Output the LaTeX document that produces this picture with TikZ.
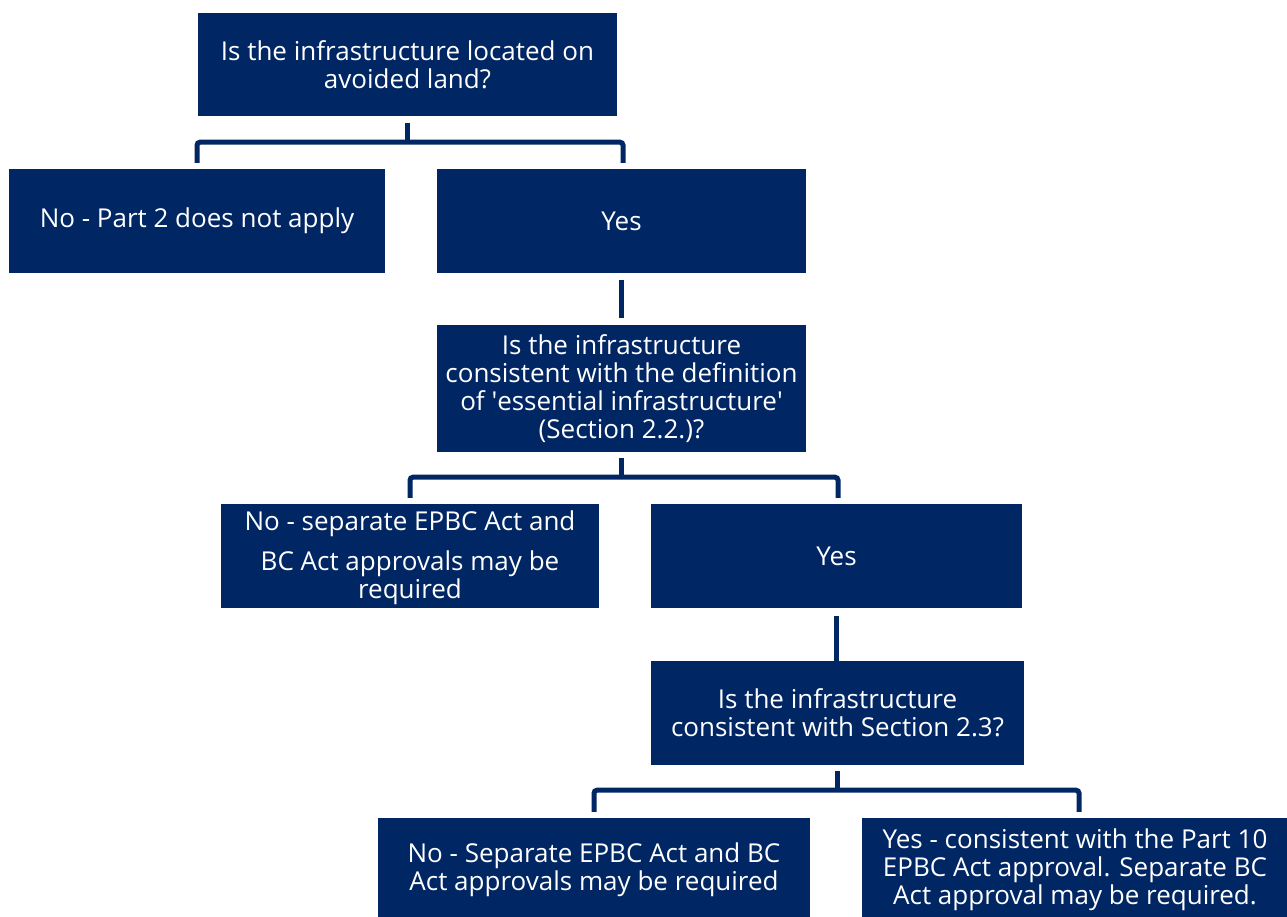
\documentclass[tikz,border=0pt]{standalone}
\usepackage{fontspec}
\setmainfont{Open Sans}
\definecolor{navy}{RGB}{0,38,100}
\begin{document}
\begin{tikzpicture}[x=1pt,y=-1pt,
  box/.style={fill=navy, text=white, align=center, inner sep=0pt,
    font=\fontsize{26}{28}\selectfont},
  conn/.style={draw=navy, line width=5pt, rounded corners=3pt}]
\clip (0,0) rectangle (1287,917);
\useasboundingbox (0,0) rectangle (1287,917);
\node[box, minimum width=419, minimum height=103] (b1) at (407.5,64.5) {Is the infrastructure located on\\avoided land?};
\node[box, minimum width=376, minimum height=104] (b2) at (197,221) {No - Part 2 does not apply};
\node[box, minimum width=369, minimum height=104] (b3) at (621.5,221) {Yes};
\node[box, minimum width=369, minimum height=127] (b4) at (621.5,388.5) {Is the infrastructure\\consistent with the definition\\of \textquotesingle essential infrastructure\textquotesingle\\(Section 2.2.)?};
\node[box, minimum width=378, minimum height=104] (b5) at (410,556) {};
\node[box, anchor=center] (b5t) at ([yshift=-1.5pt]b5.center) {No - separate EPBC Act and\\[12pt]BC Act approvals may be\\required};
\node[box, minimum width=371, minimum height=104] (b6) at (836.5,556) {Yes};
\node[box, minimum width=373, minimum height=104] (b7) at (837.5,713) {Is the infrastructure\\consistent with Section 2.3?};
\node[box, minimum width=432, minimum height=103] (b8) at (594,869.5) {No - Separate EPBC Act and BC\\Act approvals may be required};
\node[box, minimum width=426, minimum height=103] (b9) at (1075,869.5) {Yes - consistent with the Part 10\\EPBC Act approval. Separate BC\\Act approval may be required.};
% connectors
\draw[conn] ([yshift=-7pt]b1.south) -- ++(0,19) coordinate (j1);
\draw[conn] ([yshift=6pt]b2.north) |- (j1) -| ([yshift=6pt,xshift=1.5pt]b3.north);
\draw[conn] ([yshift=-7pt]b3.south) -- ([yshift=7pt]b4.north);
\draw[conn] ([yshift=-6pt]b4.south) -- ++(0,19) coordinate (j2);
\draw[conn] ([yshift=6pt]b5.north) |- (j2) -| ([yshift=6pt,xshift=1.5pt]b6.north);
\draw[conn] ([yshift=-8pt]b6.south) -- ([yshift=-8pt]b6.south |- b7.north);
\draw[conn] ([yshift=-6pt]b7.south) -- ++(0,19) coordinate (j3);
\draw[conn] ([yshift=6pt]b8.north) |- (j3) -| ([yshift=6pt,xshift=4pt]b9.north);
\end{tikzpicture}
\end{document}
